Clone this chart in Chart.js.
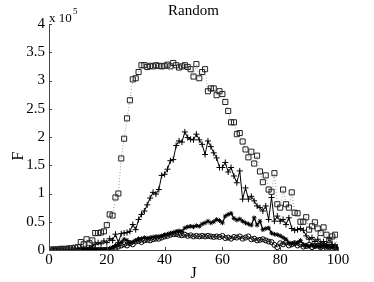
<!DOCTYPE html>
<html>
<head>
<meta charset="utf-8">
<script src="https://cdn.jsdelivr.net/npm/chart.js@4.4.1/dist/chart.umd.min.js"></script>
<style>
  html, body { margin: 0; padding: 0; background: #fff; }
  canvas { display: block; }
</style>
</head>
<body>
<canvas id="myChart" width="374" height="282"></canvas>
<script>
// J = 1..100, F in units of 1e5
const J = Array.from({ length: 100 }, (_, i) => i + 1);

const squares = [
    0.01, 0.01, 0.01, 0.02, 0.02, 0.02, 0.03, 0.03, 0.04, 0.05,
    0.14, 0.1, 0.19, 0.12, 0.17, 0.3, 0.3, 0.31, 0.33, 0.44,
    0.63, 0.61, 0.93, 1.0, 1.62, 1.97, 2.33, 2.65, 3.02, 3.04,
    3.15, 3.27, 3.27, 3.24, 3.26, 3.25, 3.27, 3.26, 3.25, 3.26,
    3.28, 3.25, 3.31, 3.27, 3.23, 3.25, 3.27, 3.24, 3.2, 3.07,
    3.29, 3.04, 3.15, 3.2, 2.81, 2.86, 2.86, 2.74, 2.81, 2.76,
    2.62, 2.46, 2.26, 2.26, 2.05, 2.07, 1.92, 1.78, 1.64, 1.74,
    1.53, 1.67, 1.39, 1.2, 1.32, 1.07, 1.03, 1.36, 0.81, 0.75,
    1.07, 0.81, 0.75, 1.02, 0.66, 0.65, 0.5, 0.5, 0.58, 0.36,
    0.42, 0.49, 0.38, 0.3, 0.4, 0.27, 0.18, 0.24, 0.27, 0.05,
];

const pluses = [
    0.0, 0.0, 0.0, 0.01, 0.01, 0.01, 0.01, 0.02, 0.02, 0.02,
    0.03, 0.03, 0.03, 0.04, 0.07, 0.1, 0.13, 0.11, 0.16, 0.13,
    0.2, 0.17, 0.28, 0.13, 0.29, 0.3, 0.31, 0.33, 0.45, 0.36,
    0.54, 0.63, 0.69, 0.8, 0.92, 1.02, 0.99, 1.07, 1.32, 1.34,
    1.43, 1.58, 1.6, 1.85, 1.93, 1.91, 2.09, 1.99, 1.96, 1.95,
    2.05, 1.95, 1.87, 1.69, 1.93, 1.83, 1.72, 1.63, 1.46, 1.46,
    1.55, 1.38, 1.46, 1.31, 1.19, 1.4, 0.9, 1.1, 0.9, 0.95,
    0.87, 0.78, 0.75, 0.69, 0.78, 0.54, 0.93, 0.51, 0.6, 0.51,
    0.54, 0.45, 0.57, 0.38, 0.35, 0.36, 0.38, 0.35, 0.25, 0.19,
    0.22, 0.15, 0.19, 0.12, 0.15, 0.1, 0.2, 0.1, 0.08, 0.05,
];

const stars = [
    0.0, 0.0, 0.0, 0.0, 0.0, 0.0, 0.0, 0.0, 0.0, 0.0,
    0.0, 0.0, 0.0, 0.0, 0.01, 0.01, 0.01, 0.01, 0.01, 0.02,
    0.03, 0.05, 0.08, 0.1, 0.14, 0.19, 0.17, 0.13, 0.14, 0.17,
    0.2, 0.2, 0.22, 0.21, 0.22, 0.23, 0.24, 0.24, 0.25, 0.27,
    0.28, 0.3, 0.31, 0.33, 0.34, 0.33, 0.39, 0.41, 0.42, 0.41,
    0.43, 0.42, 0.46, 0.48, 0.51, 0.48, 0.5, 0.54, 0.52, 0.48,
    0.6, 0.63, 0.65, 0.56, 0.53, 0.55, 0.51, 0.48, 0.46, 0.44,
    0.57, 0.44, 0.51, 0.36, 0.38, 0.39, 0.3, 0.28, 0.27, 0.25,
    0.22, 0.19, 0.13, 0.11, 0.12, 0.13, 0.17, 0.1, 0.08, 0.06,
    0.1, 0.06, 0.08, 0.05, 0.08, 0.05, 0.07, 0.04, 0.06, 0.03,
];

const circles = [
    0.0, 0.0, 0.0, 0.0, 0.0, 0.0, 0.0, 0.0, 0.0, 0.0,
    0.0, 0.0, 0.0, 0.0, 0.0, 0.0, 0.0, 0.0, 0.0, 0.0,
    0.0, 0.02, 0.04, 0.06, 0.08, 0.1, 0.08, 0.12, 0.1, 0.15,
    0.16, 0.14, 0.17, 0.18, 0.17, 0.19, 0.2, 0.2, 0.22, 0.24,
    0.25, 0.27, 0.28, 0.28, 0.27, 0.26, 0.27, 0.25, 0.26, 0.24,
    0.25, 0.24, 0.25, 0.24, 0.25, 0.24, 0.23, 0.24, 0.23, 0.25,
    0.21, 0.22, 0.2, 0.23, 0.22, 0.24, 0.2, 0.22, 0.24, 0.19,
    0.2, 0.17, 0.18, 0.19, 0.17, 0.15, 0.14, 0.09, 0.05, 0.12,
    0.1, 0.13, 0.08, 0.1, 0.12, 0.08, 0.1, 0.06, 0.07, 0.09,
    0.05, 0.07, 0.08, 0.05, 0.07, 0.04, 0.06, 0.03, 0.05, 0.02,
];

const xTicks = [0, 20, 40, 60, 80, 100];
const yTicks = [0, 0.5, 1, 1.5, 2, 2.5, 3, 3.5, 4];

const serif = "'Liberation Serif', 'DejaVu Serif', serif";

// texts and inward tick marks, MATLAB style
const decorations = {
    id: "decorations",
    afterDraw(chart) {
        const c = chart.ctx;
        const a = chart.chartArea;
        const xs = chart.scales.x;
        const ys = chart.scales.y;
        c.save();
        c.strokeStyle = "#444";
        c.lineWidth = 1;
        xTicks.forEach(function (v) {
            const px = Math.round(xs.getPixelForValue(v)) + 0.5;
            c.beginPath();
            c.moveTo(px, a.bottom);
            c.lineTo(px, a.bottom - 3);
            c.stroke();
        });
        yTicks.forEach(function (v) {
            const py = Math.round(ys.getPixelForValue(v)) + 0.5;
            c.beginPath();
            c.moveTo(a.left, py);
            c.lineTo(a.left + 3, py);
            c.stroke();
        });

        c.fillStyle = "#000";
        c.textAlign = "center";
        c.textBaseline = "alphabetic";
        c.font = "15px " + serif;
        c.fillText("Random", (a.left + a.right) / 2, 15);
        c.font = "16px " + serif;
        c.fillText("J", (a.left + a.right) / 2, 278);

        c.save();
        c.translate(23, 156);
        c.rotate(-Math.PI / 2);
        c.fillText("F", 0, 0);
        c.restore();

        c.textAlign = "left";
        c.font = "13px " + serif;
        c.fillText("x 10", a.left, 22);
        c.font = "9px " + serif;
        c.fillText("5", a.left + 24, 14);
        c.restore();
    },
};

const ctx = document.getElementById("myChart");

new Chart(ctx, {
    type: "line",
    data: {
        labels: J,
        datasets: [
            {
                label: "squares",
                data: squares,
                borderColor: "#999",
                borderWidth: 1,
                borderDash: [1, 2],
                pointStyle: "rect",
                pointRadius: 3.6,
                pointBorderColor: "#222",
                pointBackgroundColor: "rgba(0,0,0,0)",
                pointBorderWidth: 1,
            },
            {
                label: "plus",
                data: pluses,
                borderColor: "#000",
                borderWidth: 1,
                pointStyle: "cross",
                pointRadius: 3,
                pointBorderColor: "#000",
                pointBorderWidth: 1,
            },
            {
                label: "stars",
                data: stars,
                borderColor: "#000",
                borderWidth: 1.3,
                pointStyle: "star",
                pointRadius: 2.3,
                pointBorderColor: "#000",
                pointBackgroundColor: "#000",
                pointBorderWidth: 1,
            },
            {
                label: "circles",
                data: circles,
                borderColor: "#000",
                borderWidth: 0.8,
                pointStyle: "circle",
                pointRadius: 2.5,
                pointBorderColor: "#000",
                pointBackgroundColor: "rgba(0,0,0,0)",
                pointBorderWidth: 1,
            },
        ],
    },
    options: {
        responsive: false,
        animation: false,
        layout: { padding: { top: 24, right: 36, left: 0, bottom: 0 } },
        plugins: {
            legend: { display: false },
            tooltip: { enabled: false },
        },
        scales: {
            x: {
                type: "linear",
                min: 0,
                max: 100,
                afterFit: function (s) { s.height = 32; },
                afterBuildTicks: function (s) {
                    s.ticks = xTicks.map(function (v) { return { value: v }; });
                },
                grid: { display: false, drawTicks: false },
                border: { display: true, color: "#444", width: 1 },
                ticks: {
                    color: "#000",
                    font: { family: serif, size: 15 },
                    padding: 1,
                    maxRotation: 0,
                    callback: function (v) { return String(v); },
                },
            },
            y: {
                type: "linear",
                min: 0,
                max: 4,
                afterFit: function (s) { s.width = 49; },
                afterBuildTicks: function (s) {
                    s.ticks = yTicks.map(function (v) { return { value: v }; });
                },
                grid: { display: false, drawTicks: false },
                border: { display: true, color: "#444", width: 1 },
                ticks: {
                    color: "#000",
                    font: { family: serif, size: 15 },
                    padding: 4,
                    callback: function (v) { return String(v); },
                },
            },
        },
    },
    plugins: [decorations],
});
</script>
</body>
</html>
